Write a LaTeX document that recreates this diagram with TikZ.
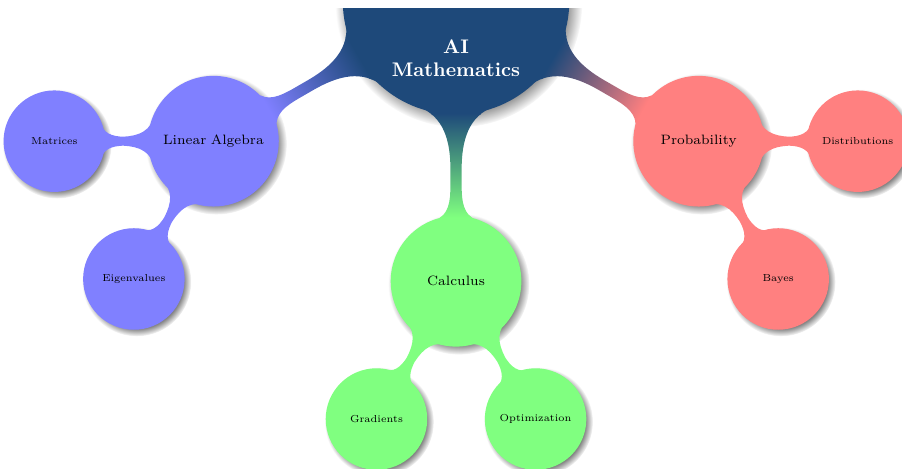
\documentclass[tikz,border=0pt]{standalone}
\usepackage{tikz}
\usetikzlibrary{mindmap,shadows}
\tikzset{>=latex}
\definecolor{rootblue}{RGB}{30,73,122}
\font\leaffont="[lmroman6-regular]" at 5.15pt % 二级概念用的小字号

\begin{document}
\begin{tikzpicture}
  [
   mindmap,
   concept color=rootblue, % 根节点颜色
   every concept/.append style={circular drop shadow}, % 每个概念都加阴影
   root concept/.append style={minimum size=4cm},
   level 1/.append style={level distance=5cm},
   level 2/.append style={level distance=2.84cm},
   level 1 concept/.append style={minimum size=2.29cm, font=\fontsize{6.9}{8}\selectfont},
   level 2 concept/.append style={minimum size=1.77cm, font=\leaffont}
  ]
  \useasboundingbox (-8.14,0.02) rectangle (7.96,-8.34);
  \clip (-8.14,-0.125) rectangle (7.96,-8.34); % 顶部被截掉一条
  \node[concept] (root) {}
    child[grow=210, concept color=blue!50] {node[concept] (linalg) {Linear Algebra}
      child[grow=180] {node[concept] (matrices) {Matrices}}
      child[grow=240] {node[concept] (eigen) {Eigenvalues}}}
    child[grow=270, concept color=green!50] {node[concept] (calculus) {Calculus}
      child[grow=240] {node[concept] (gradients) {Gradients}}
      child[grow=300] {node[concept] (optim) {Optimization}}}
    child[grow=330, concept color=red!50] {node[concept] (prob) {Probability}
      child[grow=0] {node[concept] (distrib) {Distributions}}
      child[grow=300] {node[concept] (bayes) {Bayes}}};
  % 根节点的文字偏下
  \node[text=white, font=\bfseries, align=center, yshift=-1.02cm] (title) at (root) {AI\\Mathematics};
\end{tikzpicture}
\end{document}
